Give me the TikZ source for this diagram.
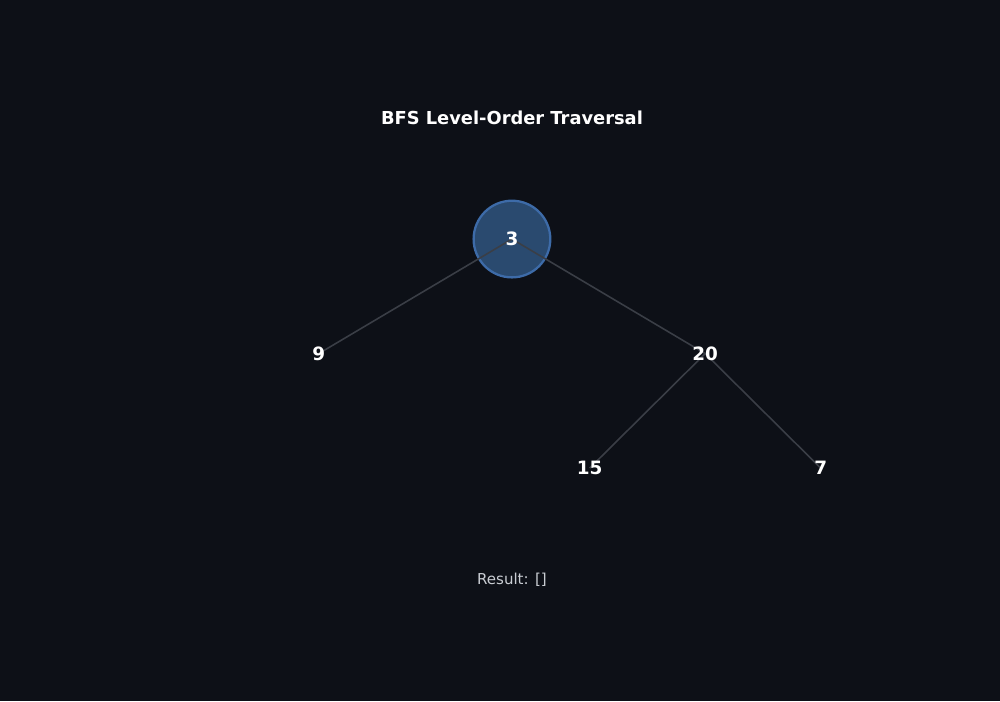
\documentclass[tikz,border=0pt]{standalone}
\usepackage{fontspec}
\setmainfont{DejaVu Sans}
\definecolor{bg}{HTML}{0D1017}
\definecolor{edgec}{HTML}{3A3E46}
\definecolor{cfill}{HTML}{2A4A6F}
\definecolor{cdraw}{HTML}{3D6BA8}
\definecolor{restxt}{HTML}{C9CDD3}
\begin{document}
\begin{tikzpicture}[x=0.02cm,y=-0.02cm,
  edge/.style={draw=edgec,line width=0.9pt},
  lbl/.style={text=white,font=\bfseries\fontsize{10.5}{12}\selectfont,inner sep=0pt},
  active/.style={circle,fill=cfill,draw=cdraw,line width=1.3pt,minimum size=1.54cm,inner sep=0pt}]
\fill[bg] (-2,-2) rectangle (1002,702);
\useasboundingbox (0,0) rectangle (1000,700);
\node[text=white,font=\bfseries\fontsize{10.2}{12}\selectfont] (title) at (512,116) {BFS Level-Order Traversal};
\node[active] (c3) at (512,238) {};
\coordinate (n3) at (512,238);
\coordinate (n9) at (318,353);
\coordinate (n20) at (706,353);
\coordinate (n15) at (590,468);
\coordinate (n7) at (822,468);
\draw[edge] (n3) -- (n9);
\draw[edge] (n3) -- (n20);
\draw[edge] (n20) -- (n15);
\draw[edge] (n20) -- (n7);
\node[lbl] (l3) at (n3) {3};
\node[lbl] (l9) at (n9) {9};
\node[lbl] (l20) at (n20) {20};
\node[lbl] (l15) at (n15) {15};
\node[lbl] (l7) at (n7) {7};
\node[text=restxt,font=\fontsize{8.6}{10}\selectfont] (res) at (512,580) {Result: []};
\end{tikzpicture}
\end{document}
